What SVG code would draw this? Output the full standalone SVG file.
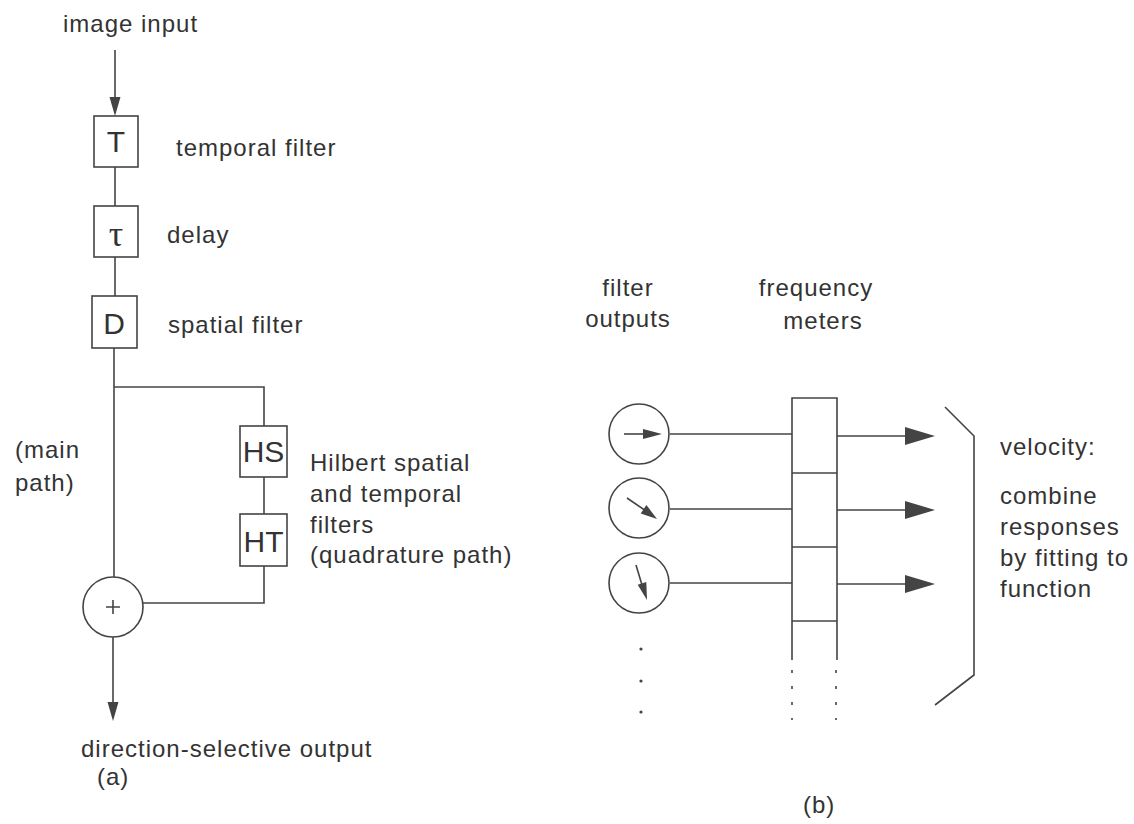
<svg xmlns="http://www.w3.org/2000/svg" width="1134" height="824" viewBox="0 0 1134 824">
<style>
.t{font-family:"Liberation Sans",Arial,sans-serif;font-size:24px;letter-spacing:1px;fill:#333}
.b{font-family:"Liberation Sans",Arial,sans-serif;font-size:30px;fill:#333;text-anchor:middle}
.s{fill:none;stroke:#444;stroke-width:1.6}
.box{fill:#fff;stroke:#444;stroke-width:1.6}
.ah{fill:#444}
</style>
<rect width="1134" height="824" fill="#fff"/>

<g id="connectors">
<line class="s" x1="115" y1="50" x2="115" y2="104"/>
<path class="ah" d="M109.5,97 L120.5,97 L115,116 Z"/>
<line class="s" x1="115" y1="167" x2="115" y2="206"/>
<line class="s" x1="115" y1="257" x2="115" y2="296"/>
<polyline class="s" points="114,348 114,577"/>
<polyline class="s" points="114,387 264,387 264,426"/>
<line class="s" x1="264" y1="477" x2="264" y2="514"/>
<polyline class="s" points="264,566 264,603 143,603"/>
<line class="s" x1="113" y1="637" x2="113" y2="706"/>
<path class="ah" d="M107.5,702 L118.5,702 L113,721 Z"/>
<line class="s" x1="670" y1="434" x2="792" y2="434"/>
<line class="s" x1="670" y1="509" x2="792" y2="509"/>
<line class="s" x1="670" y1="583" x2="792" y2="583"/>
<line class="s" x1="837" y1="436" x2="910" y2="436"/>
<path class="ah" d="M905,427 L935,436 L905,445 Z"/>
<line class="s" x1="837" y1="510" x2="910" y2="510"/>
<path class="ah" d="M905,501 L935,510 L905,519 Z"/>
<line class="s" x1="837" y1="584" x2="910" y2="584"/>
<path class="ah" d="M905,575 L935,584 L905,593 Z"/>
</g>

<g id="label-image-input"><text class="t" x="63" y="32">image input</text></g>

<g id="node-T">
<rect class="box" x="94" y="116" width="44" height="51"/>
<text class="b" x="116" y="152">T</text>
<text class="t" x="176" y="156">temporal filter</text>
</g>
<g id="node-tau">
<rect class="box" x="94" y="206" width="44" height="51"/>
<text x="116" y="246" style="font-family:'Liberation Serif','DejaVu Serif',serif;font-size:36px;fill:#333;text-anchor:middle">τ</text>
<text class="t" x="167" y="243">delay</text>
</g>
<g id="node-D">
<rect class="box" x="92" y="296" width="45" height="52"/>
<text class="b" x="114" y="334">D</text>
<text class="t" x="168" y="333">spatial filter</text>
</g>
<g id="label-main-path">
<text class="t" x="15" y="458">(main</text>
<text class="t" x="15" y="491">path)</text>
</g>
<g id="node-HS">
<rect class="box" x="240" y="426" width="47" height="51"/>
<text class="b" x="263.5" y="462">HS</text>
</g>
<g id="node-HT">
<rect class="box" x="240" y="514" width="47" height="52"/>
<text class="b" x="263.5" y="552">HT</text>
</g>
<g id="label-hilbert">
<text class="t" x="310" y="471">Hilbert spatial</text>
<text class="t" x="310" y="502">and temporal</text>
<text class="t" x="310" y="533">filters</text>
<text class="t" x="310" y="563">(quadrature path)</text>
</g>
<g id="node-sum">
<circle class="s" cx="113" cy="607" r="30"/>
<path class="s" d="M106,607 H120 M113,600 V614" stroke-width="1.3"/>
</g>
<g id="label-output"><text class="t" x="81" y="757">direction-selective output</text></g>
<g id="label-a"><text class="t" x="97" y="785">(a)</text></g>

<g id="label-filter-outputs">
<text class="t" x="628" y="296" text-anchor="middle">filter</text>
<text class="t" x="628" y="327" text-anchor="middle">outputs</text>
</g>
<g id="label-frequency-meters">
<text class="t" x="816" y="296" text-anchor="middle">frequency</text>
<text class="t" x="823" y="329" text-anchor="middle">meters</text>
</g>

<g id="node-filter1">
<circle class="s" cx="639" cy="434" r="30"/>
<line class="s" x1="624" y1="434" x2="646" y2="434"/>
<path class="ah" d="M643,429 L662,434 L643,439 Z"/>
</g>
<g id="node-filter2">
<circle class="s" cx="639" cy="508" r="30"/>
<line class="s" x1="627" y1="498" x2="646" y2="511"/>
<path class="ah" d="M646.4,505 L657,519 L640.7,513.4 Z"/>
</g>
<g id="node-filter3">
<circle class="s" cx="639" cy="583" r="30"/>
<line class="s" x1="636" y1="565" x2="642" y2="585"/>
<path class="ah" d="M637.7,584.7 L647,600 L646.3,582.1 Z"/>
</g>
<g id="filter-dots" fill="#444">
<circle cx="641" cy="649" r="1.6"/>
<circle cx="641" cy="681" r="1.6"/>
<circle cx="641" cy="712" r="1.6"/>
</g>

<g id="node-meters">
<polyline class="s" points="792,660 792,398 837,398 837,660"/>
<line class="s" x1="792" y1="473" x2="837" y2="473"/>
<line class="s" x1="792" y1="547" x2="837" y2="547"/>
<line class="s" x1="792" y1="621" x2="837" y2="621"/>
<line class="s" x1="792" y1="670" x2="792" y2="720" stroke-dasharray="3 13" stroke-width="2"/>
<line class="s" x1="836" y1="670" x2="836" y2="720" stroke-dasharray="3 13" stroke-width="2"/>
</g>

<g id="node-velocity">
<polyline class="s" points="945,407 974,436 974,675 935,705"/>
<text class="t" x="1000" y="455">velocity:</text>
<text class="t" x="1000" y="504">combine</text>
<text class="t" x="1000" y="535">responses</text>
<text class="t" x="1000" y="566">by fitting to</text>
<text class="t" x="1000" y="597">function</text>
</g>
<g id="label-b"><text class="t" x="803" y="813">(b)</text></g>
</svg>
